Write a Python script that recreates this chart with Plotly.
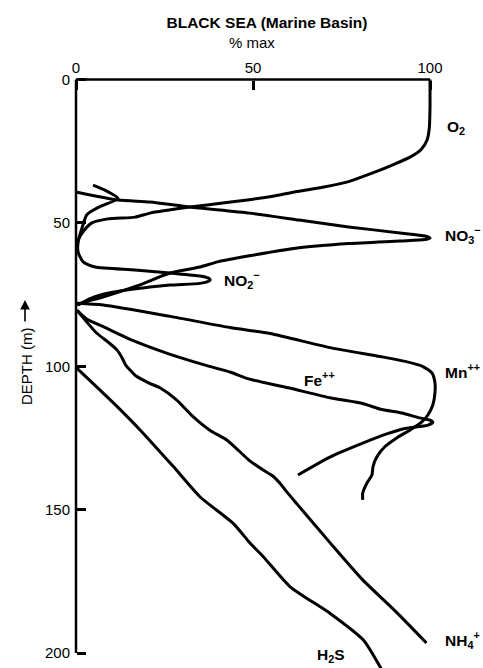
import plotly.graph_objects as go

# ---------------- data ----------------
x_ticks = [0, 50, 100]
depth_ticks = [0, 50, 100, 150, 200]

o2_pct = [100, 100, 99.8, 99.2, 97.5, 94.5, 90, 84, 77, 70, 63, 56, 49, 42, 32.2, 20.9, 16.7, 9, 4.5, 2.5, 0.6, 0.3]
o2_depth = [0, 10, 17, 21, 24.4, 27, 29.5, 32.5, 35.6, 37.5, 39, 40.6, 41.9, 43, 44.5, 46.6, 48, 48.6, 50, 52.3, 56, 58.8]

no3_pct = [0, 11.9, 20.9, 32.2, 49, 63, 77, 91.5, 98.6, 100, 98.6, 91.5, 77, 63, 49, 40, 35,
           26.6, 17.2, 7.6, 2.5, 0.3]
no3_depth = [39.2, 42, 42.7, 44.5, 46.6, 49, 51.4, 53.5, 54.6, 55.3, 55.8, 56.3, 57.2, 58.7, 61.5, 63.6, 65.4,
             67.5, 72, 75.9, 77.6, 78.6]

no2_pct = [4.8, 8.2, 11.9, 6.8, 3.1, 1.7, 0.6, 0.6, 2, 5.4, 16.7, 26.6, 35, 37.3, 37.9, 37, 35, 26.6, 20.9,
           9.6, 4, 0.6]
no2_depth = [36.8, 38.6, 41.5, 44.3, 47.1, 51.8, 56.7, 60.2, 63.6, 65.4, 66.4, 67.5, 68.5, 69.2, 69.9, 70.6,
             71.1, 71.7, 72.4, 74.4, 76.4, 78.6]

mn_pct = [0.3, 7.7, 26.6, 43.5, 54.8, 71.8, 85.9, 93, 98, 100.6, 101.4, 101.4, 100.8, 99.4, 97.7, 94.4, 90.7,
          87.3, 85, 83.9, 83.6, 82.2, 81, 81]
mn_depth = [78, 78.6, 82.6, 86.5, 88.6, 93.5, 96.6, 98.3, 100.1, 102.4, 105.8, 109.3, 113.5, 117, 119.4, 122.2,
            124.9, 128, 131.6, 135, 137.9, 140.7, 144.2, 146.6]

fe_pct = [0.3, 3, 7.7, 16, 26, 37, 43.5, 49, 60, 71.8, 81, 86, 92, 97, 100, 100.8, 99.5, 97, 93, 88, 81, 72, 62.7]
fe_depth = [80.5, 83.5, 86.2, 91, 95.6, 99.8, 102, 104.5, 107.5, 111, 113, 115, 116.3, 118, 118.8, 119.5, 120.5,
            121, 121.7, 123.5, 126.8, 131.5, 137.9]

nh4_pct = [0.3, 3, 5.8, 9, 11.5, 13, 14, 17.1, 20.5, 23.7, 28.4, 33, 38, 42.6, 49.2, 52.9, 55.5, 57.6, 60,
           62.4, 71.8, 81, 90.7, 99]
nh4_depth = [80.5, 84.5, 88.4, 91.5, 94.2, 97, 99.5, 103.5, 105.8, 107.5, 111.7, 117.5, 122.5, 125.7, 133.1,
             136.2, 138.2, 140.8, 144.5, 148, 161.6, 174.5, 186, 196.5]

h2s_pct = [0, 6.8, 12, 18.1, 27.5, 35, 44.4, 49.2, 52.9, 60.5, 71.8, 81.2, 85.9, 87.5]
h2s_depth = [100.4, 108.3, 114.5, 122.2, 135, 145.5, 154.8, 161.7, 166.4, 176.9, 186.2, 195.5, 204.8, 208]

series = [
    ("O2", o2_pct, o2_depth),
    ("NO3-", no3_pct, no3_depth),
    ("NO2-", no2_pct, no2_depth),
    ("Mn++", mn_pct, mn_depth),
    ("Fe++", fe_pct, fe_depth),
    ("NH4+", nh4_pct, nh4_depth),
    ("H2S", h2s_pct, h2s_depth),
]

labels = ["O<sub>2</sub>", "NO<sub>3</sub><sup>−</sup>", "NO<sub>2</sub><sup>−</sup>", "Mn<sup>++</sup>",
          "Fe<sup>++</sup>", "NH<sub>4</sub><sup>+</sup>", "H<sub>2</sub>S"]
label_pct = [104.2, 103.7, 41.2, 103.7, 63.8, 103.7, 67.5]
label_depth = [16.7, 54.2, 69.9, 101.8, 104.3, 195.5, 200.7]

# ---------------- layout geometry ----------------
W, H = 483, 668
X0PX, SX = 76.0, 3.54      # pixel of 0 %, pixels per %
Y0PX, SY = 79.5, 2.8675    # pixel of 0 m, pixels per m
xmin, xmax = -X0PX / SX, (W - X0PX) / SX
ymin, ymax = -Y0PX / SY, (H - Y0PX) / SY

FONT = "Liberation Sans, Arial, Helvetica, sans-serif"

fig = go.Figure()
for name, xs, ys in series:
    fig.add_trace(go.Scatter(x=xs, y=ys, mode="lines", name=name,
                             line=dict(color="black", width=3, shape="spline", smoothing=0.6),
                             hoverinfo="skip"))

for txt, xv, yv in zip(labels, label_pct, label_depth):
    fig.add_annotation(x=xv, y=yv, xref="x", yref="y", text="<b>" + txt + "</b>", showarrow=False,
                       xanchor="left", yanchor="middle", font=dict(family=FONT, size=15.5, color="black"))

# axis lines (from tick extents)
fig.add_shape(type="line", xref="x", yref="y", x0=x_ticks[0], x1=x_ticks[-1], y0=depth_ticks[0],
              y1=depth_ticks[0], line=dict(color="black", width=2.5))
fig.add_shape(type="line", xref="x", yref="y", x0=x_ticks[0], x1=x_ticks[0], y0=depth_ticks[0],
              y1=depth_ticks[-1], line=dict(color="black", width=2.5))

# axis titles
fig.add_annotation(xref="paper", yref="paper", x=252 / W, y=1 - 43 / H, text="% max", showarrow=False,
                   xanchor="center", yanchor="middle", font=dict(family=FONT, size=15, color="black"))
fig.add_annotation(xref="paper", yref="paper", x=26 / W, y=1 - 366 / H, text="DEPTH (m)", textangle=-90,
                   showarrow=False, xanchor="center", yanchor="middle",
                   font=dict(family=FONT, size=15, color="black"))
fig.add_annotation(xref="paper", yref="paper", x=25 / W, y=1 - 300 / H, text="", showarrow=True,
                   axref="pixel", ayref="pixel", ax=0, ay=23, arrowhead=2, arrowsize=1.2, arrowwidth=1.6,
                   arrowcolor="black")

fig.update_layout(
    width=W, height=H,
    margin=dict(l=0, r=0, t=0, b=0),
    paper_bgcolor="white", plot_bgcolor="white",
    showlegend=False,
    title=dict(text="<b>BLACK SEA (Marine Basin)</b>", x=267 / W, y=1 - 23 / H, xref="container",
               yref="container", xanchor="center", yanchor="middle",
               font=dict(family=FONT, size=15.5, color="black")),
    xaxis=dict(range=[xmin, xmax], side="top", anchor="free", position=ymax / (ymax - ymin),
               tickvals=x_ticks, ticktext=[str(v) for v in x_ticks], ticks="inside", ticklen=9,
               tickwidth=2.5, tickcolor="black", showgrid=False, zeroline=False, showline=False,
               ticklabelstandoff=4,
               tickfont=dict(family=FONT, size=15, color="black"), fixedrange=True),
    yaxis=dict(range=[ymax, ymin], anchor="free", position=(0 - xmin) / (xmax - xmin),
               tickvals=depth_ticks, ticktext=[str(v) for v in depth_ticks], ticks="inside", ticklen=9,
               tickwidth=2.5, tickcolor="black", showgrid=False, zeroline=False, showline=False,
               ticklabelstandoff=6,
               tickfont=dict(family=FONT, size=15, color="black"), fixedrange=True),
)

fig.write_html("out.html")
